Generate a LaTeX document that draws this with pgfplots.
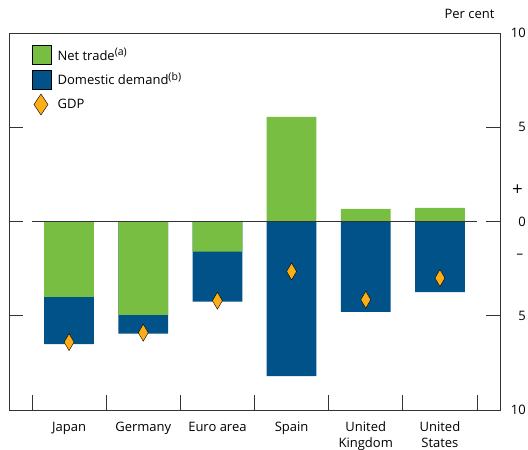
\documentclass[border=0pt]{standalone}
\usepackage{fontspec}
\setmainfont{Open Sans}
\newfontfamily\dejavu{DejaVu Sans}
\usepackage{pgfplots}
\pgfplotsset{compat=1.18}
\usepackage{pgfplotstable}
\definecolor{ntgreen}{HTML}{77BE43}
\definecolor{ddblue}{HTML}{005288}
\definecolor{gdporange}{HTML}{FBAE17}
\definecolor{axisgray}{HTML}{333333}

\pgfplotsset{
  sqlegend/.style={legend image code/.code={\fill[##1] (0pt,-9.5pt) rectangle (19pt,9.5pt);}},
}
\newcommand{\fnsup}[1]{\raisebox{4.5pt}{\fontsize{10.5}{12}\selectfont(#1)}}

\pgfplotstableread{
x nt dd gdp
0 -4.00 -2.50 -6.40
1 -4.95 -1.00 -5.90
2 -1.60 -2.65 -4.20
3 5.55 -8.20 -2.65
4 0.67 -4.80 -4.15
5 0.72 -3.75 -3.00
}\datatable

\begin{document}
\begin{tikzpicture}[font=\fontsize{13}{16}\selectfont]
\begin{axis}[
  name=ax,
  scale only axis, width=491pt, height=377pt,
  xmin=-0.81, xmax=5.81, ymin=-10, ymax=10,
  axis line style={axisgray, line width=0.9pt},
  tick style={axisgray, line width=0.9pt},
  tick align=inside,
  xtick={0,...,5},
  xticklabels={Japan,Germany,Euro area,Spain,United\\Kingdom,United\\States},
  xticklabel style={align=center, yshift=-8.5pt},
  major x tick style={draw=none},
  minor xtick={-0.5,0.5,...,5.5},
  minor tick length=15pt,
  xtick pos=lower,
  ytick={-10,-5,0,5,10},
  yticklabels={10,5,0,5,10},
  ytick pos=both,
  yticklabel pos=right,
  major tick length=14pt,
  yticklabel style={anchor=east, inner sep=0pt, xshift=26pt},
  /pgf/number format/assume math mode=true,
  legend style={at={(rel axis cs:0,1)}, anchor=north west, xshift=23pt, yshift=-12pt,
    draw=none, fill=none, row sep=5pt, column sep=4pt, inner sep=0pt},
  legend cell align=left,
]
\addlegendimage{sqlegend, fill=ntgreen}
\addlegendentry{Net trade\fnsup{a}}
\addlegendimage{sqlegend, fill=ddblue}
\addlegendentry{Domestic demand\fnsup{b}}
\addlegendimage{only marks, mark=diamond*, mark size=10.5pt, mark options={xscale=0.89, fill=gdporange, draw=none}}
\addlegendentry{GDP}

\addplot[ybar, bar width=0.67, bar shift=0pt, fill=ddblue, draw=none, forget plot]
  table[x=x, y expr={ifthenelse(\thisrow{nt}<0,\thisrow{nt}+\thisrow{dd},\thisrow{dd})}] {\datatable};
\addplot[ybar, bar width=0.67, bar shift=0pt, fill=ntgreen, draw=none, forget plot]
  table[x=x, y=nt] {\datatable};
\addplot[axisgray, line width=0.9pt, forget plot] coordinates {(-0.5,0) (5.5,0)};
\addplot[only marks, mark=diamond*, mark size=8.5pt, mark options={xscale=0.78, fill=gdporange, draw=none}, forget plot]
  table[x=x, y=gdp] {\datatable};
\end{axis}
\node[anchor=east, inner sep=0pt] at ([shift={(23.5pt,220.9pt)}]ax.south east) {\dejavu\fontsize{14}{16}\selectfont +};
\node[anchor=east, inner sep=0pt, text=black] at ([shift={(23.5pt,153.3pt)}]ax.south east) {\dejavu\fontsize{14}{16}\selectfont –};
\node[anchor=base east] at ([shift={(-2pt,14pt)}]ax.north east) {Per cent};
\pgfresetboundingbox
\path ([shift={(-9pt,-40pt)}]ax.south west) rectangle ([shift={(28pt,33pt)}]ax.north east);
\end{tikzpicture}
\end{document}
